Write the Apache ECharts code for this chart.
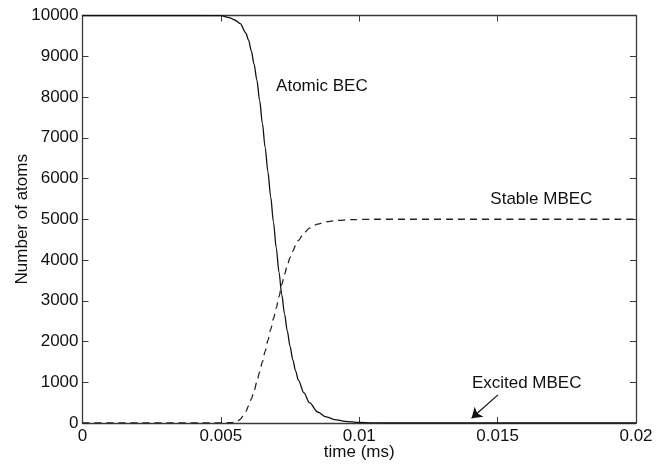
<!DOCTYPE html>
<html>
<head>
<meta charset="utf-8">
<script src="https://cdn.jsdelivr.net/npm/echarts@6/dist/echarts.min.js"></script>
<style>
  html, body { margin: 0; padding: 0; background: #fff; }
  #chart { width: 671px; height: 466px; }
</style>
</head>
<body>
<div id="chart"></div>
<script>
// Atomic condensate population vs time (solid curve)
const atomicTime = [0, 0.0040, 0.0050, 0.0053, 0.0055, 0.0057, 0.0059, 0.0060, 0.0061, 0.0062,
  0.0063, 0.0064, 0.0065, 0.0066, 0.0067, 0.0068, 0.0069, 0.0070, 0.0071, 0.0072,
  0.0073, 0.0074, 0.0075, 0.0076, 0.0077, 0.0078, 0.0080, 0.0082, 0.0085, 0.0088,
  0.0091, 0.0095, 0.0100, 0.0105, 0.0110, 0.0200];
const atomicCount = [10000, 10000, 9995, 9950, 9890, 9800, 9570, 9400, 9130, 8800,
  8420, 7920, 7350, 6760, 6160, 5550, 4930, 4300, 3700, 3150,
  2680, 2260, 1880, 1550, 1280, 1050, 740, 500, 270, 150,
  85, 40, 12, 3, 0, 0];

// Stable molecular condensate population vs time (dashed curve)
const stableTime = [0, 0.0050, 0.0052, 0.0054, 0.0056, 0.0057, 0.0058, 0.0059, 0.0060, 0.0061,
  0.0062, 0.0063, 0.0064, 0.0065, 0.0066, 0.0067, 0.0068, 0.0069, 0.0070, 0.0071,
  0.0072, 0.0073, 0.0074, 0.0075, 0.0076, 0.0077, 0.0078, 0.0080, 0.0082, 0.0085,
  0.0088, 0.0092, 0.0097, 0.0105, 0.0200];
const stableCount = [0, 0, 2, 10, 45, 90, 170, 280, 420, 590,
  790, 1010, 1250, 1500, 1760, 2030, 2300, 2560, 2820, 3100,
  3400, 3650, 3870, 4060, 4220, 4360, 4480, 4660, 4780, 4880,
  4935, 4970, 4990, 5000, 5000];

// Curve annotations: [label, time, count]
const curveLabels = [
  ['Atomic BEC', 0.00865, 8270],
  ['Stable MBEC', 0.01658, 5490],
  ['Excited MBEC', 0.01605, 974]
];
// Arrow pointing at the excited-molecule population near zero
const arrowFrom = [0.01501, 690];
const arrowTo = [0.01406, 115];

const xTicks = { min: 0, max: 0.02, interval: 0.005 };
const yTicks = { min: 0, max: 10000, interval: 1000 };

const FONT = 'Liberation Sans, Arial, Helvetica, sans-serif';
const AXIS_COLOR = '#3a3a3a';
const TEXT_COLOR = '#111';

const zip = (xs, ys) => xs.map((x, i) => [x, ys[i]]);

const chart = echarts.init(document.getElementById('chart'));

const boxAxis = (extra) => Object.assign({
  type: 'value',
  nameMoveOverlap: false,
  axisLine: { show: true, onZero: false, lineStyle: { color: AXIS_COLOR, width: 1.3 } },
  axisTick: { show: true, inside: true, length: 6, lineStyle: { color: AXIS_COLOR, width: 1 } },
  splitLine: { show: false }
}, extra);

chart.setOption({
  animation: false,
  textStyle: { fontFamily: FONT },
  grid: { left: 82.5, right: 35, top: 15.5, bottom: 43, containLabel: false, outerBoundsMode: 'none' },
  xAxis: [
    boxAxis(Object.assign({}, xTicks, {
      position: 'bottom',
      name: 'time (ms)',
      nameLocation: 'middle',
      nameGap: 21,
      nameTextStyle: { fontSize: 17, color: TEXT_COLOR, fontFamily: FONT },
      axisLabel: { fontSize: 17, color: TEXT_COLOR, margin: 5, fontFamily: FONT,
                   formatter: v => String(v) }
    })),
    boxAxis(Object.assign({}, xTicks, { position: 'top', axisLabel: { show: false } }))
  ],
  yAxis: [
    boxAxis(Object.assign({}, yTicks, {
      position: 'left',
      name: 'Number of atoms',
      nameLocation: 'middle',
      nameGap: 52,
      nameTextStyle: { fontSize: 17, color: TEXT_COLOR, fontFamily: FONT },
      axisLabel: { fontSize: 17, color: TEXT_COLOR, margin: 4, fontFamily: FONT,
                   formatter: v => String(v) }
    })),
    boxAxis(Object.assign({}, yTicks, { position: 'right', axisLabel: { show: false } }))
  ],
  series: [
    {
      name: 'Atomic BEC',
      type: 'line',
      data: zip(atomicTime, atomicCount),
      smooth: 0.3,
      smoothMonotone: 'x',
      showSymbol: false,
      lineStyle: { color: '#111', width: 1.3, type: 'solid' },
      markPoint: {
        symbol: 'circle', symbolSize: 0,
        label: { show: true, position: 'inside', fontSize: 17, color: TEXT_COLOR, fontFamily: FONT,
                 formatter: p => p.name },
        data: curveLabels.map(([name, t, n]) => ({ name, coord: [t, n] }))
      }
    },
    {
      name: 'Stable MBEC',
      type: 'line',
      data: zip(stableTime, stableCount),
      smooth: 0.3,
      smoothMonotone: 'x',
      showSymbol: false,
      lineStyle: { color: '#222', width: 1.3, type: [7, 5] },
      markLine: {
        silent: true,
        symbol: ['none', 'arrow'],
        symbolSize: 10,
        label: { show: false },
        lineStyle: { color: '#111', width: 1.2, type: 'solid' },
        data: [[{ coord: arrowFrom }, { coord: arrowTo }]]
      }
    }
  ]
});
</script>
</body>
</html>
